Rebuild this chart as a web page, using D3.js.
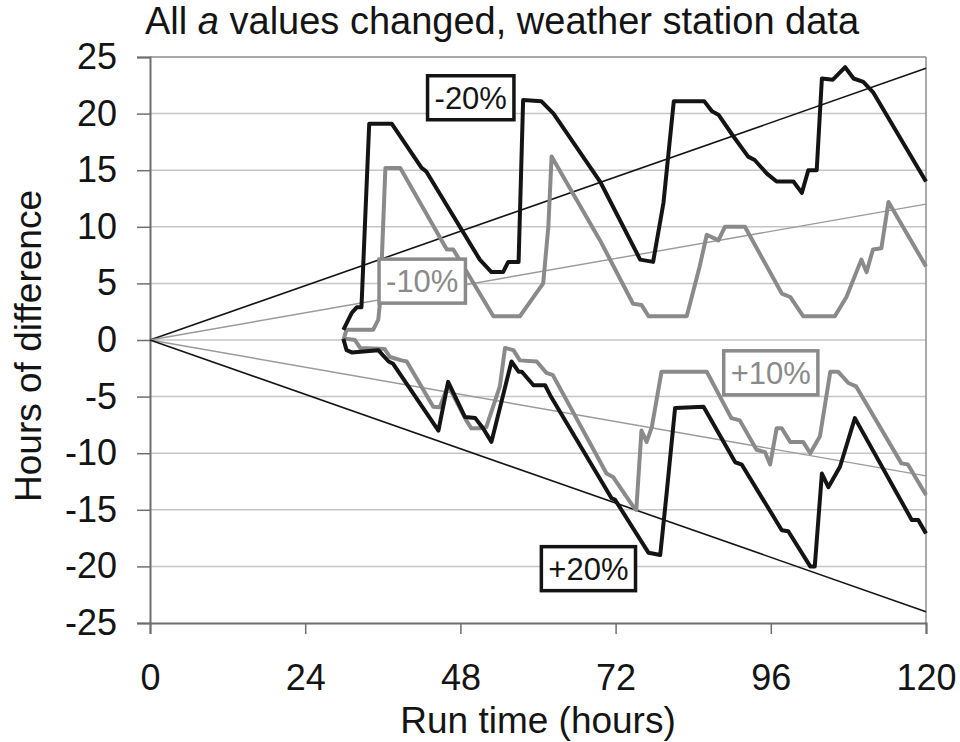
<!DOCTYPE html>
<html lang="en">
<head>
  <meta charset="UTF-8">
  <title>All a values changed, weather station data</title>
  <script src="https://cdn.jsdelivr.net/npm/d3@7/dist/d3.min.js"></script>
  <style>
    body { margin: 0; background: #fff; }
    svg { display: block; font-family: "Liberation Sans", Arial, sans-serif; }
  </style>
</head>
<body>
  <svg id="chart" width="960" height="742"></svg>
  <script>
    // ticks
    const xTicks = [0, 24, 48, 72, 96, 120];
    const yTicks = [25, 20, 15, 10, 5, 0, -5, -10, -15, -20, -25];

    // hours of difference vs run time
    const minus20 = [[29.9,0.9],[31.2,2.4],[32.0,2.9],[32.7,2.9],[33.9,19.1],[37.4,19.1],[42.0,15.2],[42.7,14.9],
      [51.0,7.1],[52.8,6.0],[54.6,6.0],[55.4,6.9],[57.0,6.9],[57.7,21.2],[60.5,21.1],[62.4,20.0],[69.6,14.0],
      [75.8,7.1],[77.8,6.9],[79.4,12.1],[81.0,21.1],[85.7,21.1],[86.9,20.2],[87.9,19.9],[90.2,18.0],[92.5,16.2],
      [93.5,15.9],[95.4,14.7],[96.9,14.0],[99.5,14.0],[100.8,13.0],[101.8,15.0],[103.1,15.0],[103.9,23.1],
      [105.6,23.0],[107.5,24.1],[108.8,23.1],[110.3,22.8],[111.8,21.9],[120,14.0]];
    const minus10 = [[29.9,0.0],[30.4,0.9],[34.5,0.9],[35.3,1.8],[35.6,3.5],[36.4,15.2],[38.7,15.2],[45.9,8.0],
      [46.9,8.0],[53.1,2.1],[57.2,2.1],[58.2,2.9],[60.8,5.0],[61.6,10.0],[62.1,16.2],[69.6,8.8],[74.7,3.2],
      [76.0,3.1],[77.1,2.1],[83.0,2.1],[85.0,6.5],[86.1,9.3],[87.9,8.8],[88.9,10.0],[92.0,10.0],[97.7,4.1],
      [99.0,3.8],[101.0,2.1],[105.9,2.1],[107.7,3.8],[110.0,7.1],[110.8,6.0],[111.8,8.0],[113.1,8.1],
      [114.2,12.2],[120,6.5]];
    const plus10 = [[29.9,0.05],[30.4,0.1],[31.7,0.0],[32.5,-0.7],[36.3,-0.8],[37.1,-1.5],[38.9,-1.8],[39.7,-1.9],
      [43.8,-5.9],[44.8,-5.95],[46.1,-4.0],[48.9,-7.1],[49.7,-7.8],[51.0,-7.8],[52.0,-7.7],[54.1,-4.1],
      [54.9,-0.7],[56.2,-0.9],[57.2,-1.8],[59.8,-1.9],[61.3,-2.9],[62.3,-3.1],[70.6,-11.8],[71.6,-12.1],
      [74.7,-14.7],[75.2,-15.0],[76.0,-8.0],[76.8,-9.0],[77.6,-7.7],[79.1,-2.8],[86.1,-2.8],[89.9,-6.9],
      [91.2,-7.1],[93.8,-9.7],[95.1,-9.9],[95.9,-11.0],[96.9,-7.8],[97.7,-7.8],[99.0,-9.0],[101.0,-9.0],
      [102.1,-10.0],[103.6,-8.5],[105.2,-2.8],[106.4,-2.8],[108.0,-3.8],[109.2,-4.1],[116.2,-10.9],
      [117.2,-11.0],[120,-13.7]];
    const plus20 = [[29.9,0.1],[30.4,-0.9],[31.2,-1.1],[35.3,-0.9],[36.9,-1.9],[37.6,-2.1],[44.6,-8.0],
      [46.1,-3.7],[48.7,-6.8],[50.3,-6.9],[51.5,-7.8],[52.8,-9.0],[55.9,-1.9],[57.0,-2.8],[57.5,-2.8],
      [59.3,-4.0],[61.1,-4.0],[61.9,-4.9],[71.4,-14.0],[71.9,-14.1],[77.1,-18.8],[78.9,-19.0],[79.9,-13.5],
      [81.2,-6.0],[85.6,-5.9],[90.5,-10.8],[91.5,-11.0],[97.7,-16.8],[98.7,-16.9],[102.1,-20.0],[102.8,-20.0],
      [103.9,-11.8],[104.9,-13.0],[106.7,-11.2],[109.0,-6.9],[117.8,-15.9],[118.8,-15.9],[120,-17.1]];

    // straight reference lines (fraction of run time)
    const trendRates = [0.2, 0.1, -0.1, -0.2];

    // label boxes: text, centre point [hours, value]
    const labels = [
      { text: "-20%", at: [49.6, 21.4], dark: true },
      { text: "-10%", at: [42.1, 5.2], dark: false },
      { text: "+10%", at: [96.0, -2.9], dark: false },
      { text: "+20%", at: [67.8, -20.2], dark: true }
    ];

    const svg = d3.select("#chart");
    const plotL = 150, plotR = 926, plotT = 57, plotB = 623;

    const x = d3.scaleLinear().domain([0, 120]).range([plotL, plotR]);
    const y = d3.scaleLinear().domain([-25, 25]).range([plotB, plotT]);

    const dark = "#141414", grey = "#8a8a8a";

    // gridlines
    svg.append("g")
      .selectAll("line")
      .data(yTicks.filter(d => d !== -25))
      .join("line")
      .attr("x1", plotL).attr("x2", plotR)
      .attr("y1", d => y(d)).attr("y2", d => y(d))
      .attr("stroke", d => d === 25 ? "#8c8c8c" : "#c6c6c6")
      .attr("stroke-width", 1.5);

    // right border
    svg.append("line")
      .attr("x1", plotR).attr("x2", plotR)
      .attr("y1", plotT).attr("y2", plotB)
      .attr("stroke", "#8c8c8c").attr("stroke-width", 1.5);

    // axes (plain hyphen for negatives, like the original)
    const yAxis = svg.append("g")
      .attr("transform", `translate(${plotL},0)`)
      .call(d3.axisLeft(y).tickValues(yTicks).tickFormat(d => String(d)).tickSize(13).tickPadding(20));
    const xAxis = svg.append("g")
      .attr("transform", `translate(0,${plotB})`)
      .call(d3.axisBottom(x).tickValues(xTicks).tickFormat(d => String(d)).tickSize(11).tickPadding(30));

    [yAxis, xAxis].forEach(g => {
      g.select(".domain").attr("stroke", "#6e6e6e").attr("stroke-width", 2);
      g.selectAll(".tick line").attr("stroke", "#6e6e6e").attr("stroke-width", 1.5);
      g.selectAll(".tick text")
        .attr("fill", dark)
        .style("font-family", "'Liberation Sans', Arial, sans-serif")
        .style("font-size", "36px");
    });

    // trend lines
    const line = d3.line().x(d => x(d[0])).y(d => y(d[1]));
    svg.append("g")
      .selectAll("path")
      .data(trendRates)
      .join("path")
      .attr("d", r => line([[0, 0], [120, 120 * r]]))
      .attr("fill", "none")
      .attr("stroke", r => Math.abs(r) > 0.15 ? dark : "#9a9a9a")
      .attr("stroke-width", r => Math.abs(r) > 0.15 ? 1.6 : 1.4);

    // model runs
    const runs = [
      { data: minus10, color: grey },
      { data: plus10, color: grey },
      { data: minus20, color: dark },
      { data: plus20, color: dark }
    ];
    svg.append("g")
      .selectAll("path")
      .data(runs)
      .join("path")
      .attr("d", d => line(d.data))
      .attr("fill", "none")
      .attr("stroke", d => d.color)
      .attr("stroke-width", 4)
      .attr("stroke-linejoin", "round");

    // labels in boxes, box sized from the text
    const lab = svg.append("g")
      .selectAll("g")
      .data(labels)
      .join("g")
      .attr("transform", d => `translate(${x(d.at[0])},${y(d.at[1])})`);
    lab.append("rect")
      .attr("fill", "#fff")
      .attr("stroke", d => d.dark ? dark : grey)
      .attr("stroke-width", 3.5);
    lab.append("text")
      .attr("text-anchor", "middle")
      .attr("dy", "0.36em")
      .attr("fill", d => d.dark ? dark : grey)
      .style("font-size", "31px")
      .text(d => d.text);
    lab.each(function() {
      const g = d3.select(this);
      const w = g.select("text").node().getComputedTextLength() + 14;
      g.select("rect").attr("x", -w / 2).attr("y", -22).attr("width", w).attr("height", 44);
    });

    // titles
    const title = svg.append("text")
      .attr("x", 145).attr("y", 34)
      .attr("fill", dark)
      .style("font-size", "38px");
    title.append("tspan").text("All ");
    title.append("tspan").style("font-style", "italic").text("a");
    title.append("tspan").text("  values changed, weather station data");

    svg.append("text")
      .attr("x", x(60)).attr("y", 733)
      .attr("text-anchor", "middle")
      .attr("fill", dark)
      .style("font-size", "37px")
      .text("Run time (hours)");

    svg.append("text")
      .attr("transform", `translate(41,${346}) rotate(-90)`)
      .attr("text-anchor", "middle")
      .attr("fill", dark)
      .style("font-size", "37px")
      .text("Hours of difference");
  </script>
</body>
</html>
